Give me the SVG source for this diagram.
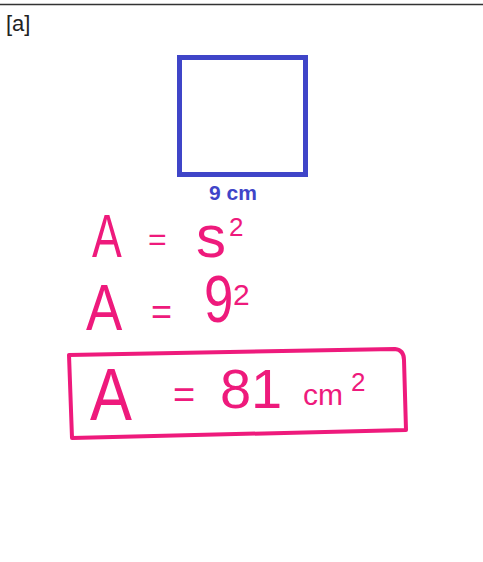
<svg xmlns="http://www.w3.org/2000/svg" width="483" height="562" viewBox="0 0 483 562">
<style>
.pk{fill:#ee1a7c;font-family:"Liberation Sans",Arial,sans-serif;}
</style>
<rect x="0" y="0" width="483" height="562" fill="#fff"/>
<line x1="0" y1="4.5" x2="483" y2="4.5" stroke="#333" stroke-width="1.5"/>
<text x="6" y="31" font-family="Liberation Sans,Arial,sans-serif" font-size="22" fill="#222">[a]</text>
<g id="square">
<rect x="179.5" y="57.5" width="126" height="117" fill="none" stroke="#3f45c8" stroke-width="5"/>
<text x="233" y="200" text-anchor="middle" font-family="Liberation Sans,Arial,sans-serif" font-weight="bold" font-size="21" fill="#3f45c8">9 cm</text>
</g>
<g id="line1">
<text class="pk" font-size="62" transform="translate(92,257) scale(0.72,1)">A</text>
<text class="pk" x="148" y="250" font-size="32">=</text>
<text class="pk" x="196" y="257" font-size="60">s</text>
<text class="pk" x="229" y="236" font-size="26">2</text>
</g>
<g id="line2">
<text class="pk" font-size="64" transform="translate(86,330) scale(0.85,1)">A</text>
<text class="pk" x="151" y="324" font-size="36">=</text>
<text class="pk" font-size="66" transform="translate(204,322) scale(0.8,1)">9</text>
<text class="pk" x="233" y="305" font-size="30">2</text>
</g>
<g id="answer">
<path d="M69,355 L395,349 Q404,350 404,360 L406,430 L72,438 Z" fill="none" stroke="#ee1a7c" stroke-width="4" stroke-linejoin="round"/>
<text class="pk" font-size="74" transform="translate(90,420) scale(0.85,1)">A</text>
<text class="pk" x="173" y="408" font-size="38">=</text>
<text class="pk" x="220" y="408" font-size="56">8</text>
<text class="pk" x="251" y="408" font-size="56">1</text>
<text class="pk" x="303" y="405" font-size="30">cm</text>
<text class="pk" x="351" y="391" font-size="26">2</text>
</g>
</svg>
